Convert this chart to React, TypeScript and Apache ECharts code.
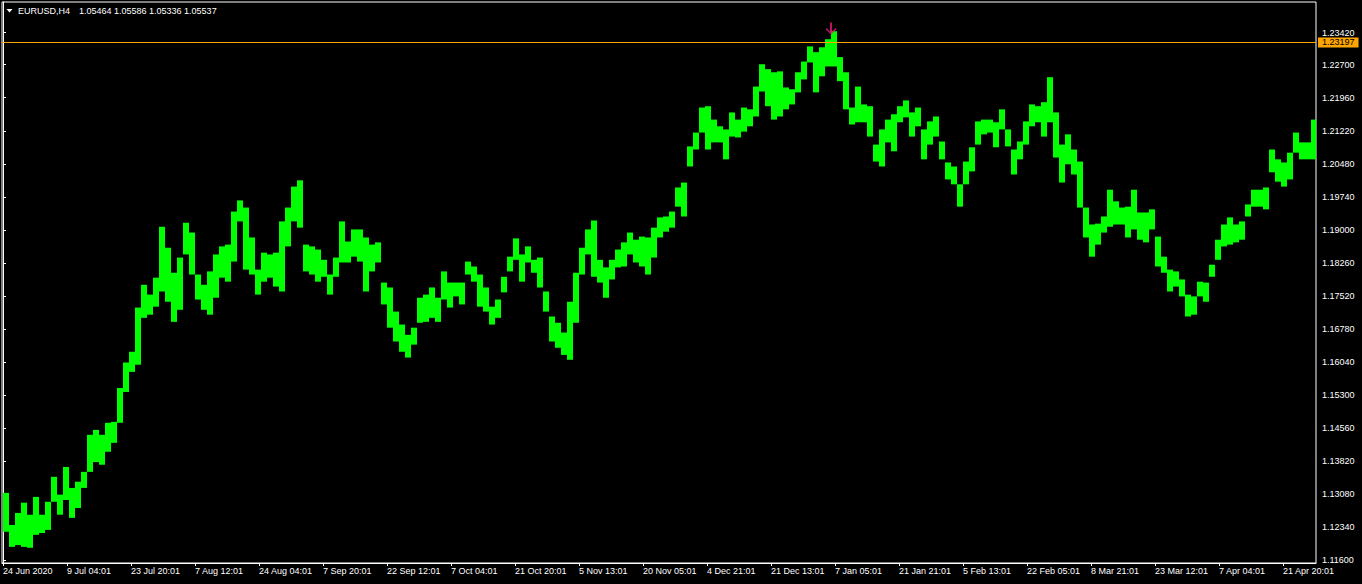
import React, { useEffect, useRef } from "react";
import * as echarts from "echarts";

// ---- data ----
const titleSymbol = "EURUSD,H4";
const titleOHLC = [1.05464, 1.05586, 1.05336, 1.05537];

const BARS_PER_DAY = 6; // H4 bars per trading day
const BARS_PER_TICK = 64;

const xTickLabels = [
  "24 Jun 2020", "9 Jul 04:01", "23 Jul 20:01", "7 Aug 12:01", "24 Aug 04:01",
  "7 Sep 20:01", "22 Sep 12:01", "7 Oct 04:01", "21 Oct 20:01", "5 Nov 13:01",
  "20 Nov 05:01", "4 Dec 21:01", "21 Dec 13:01", "7 Jan 05:01", "21 Jan 21:01",
  "5 Feb 13:01", "22 Feb 05:01", "8 Mar 21:01", "23 Mar 12:01", "7 Apr 04:01",
  "21 Apr 20:01",
];

const yTicks = [
  1.116, 1.1234, 1.1308, 1.1382, 1.1456, 1.153, 1.1604, 1.1678, 1.1752,
  1.1826, 1.19, 1.1974, 1.2048, 1.2122, 1.2196, 1.227, 1.2342,
];

const priceLevel = 1.23197;
const arrowMark = { bar: 828, price: 1.2351 };

// daily high / low (one entry per trading day)
const dayHigh = [
  1.1311, 1.1239, 1.1266, 1.1289, 1.1262, 1.1302, 1.1262, 1.1291, 1.1347, 1.1307,
  1.1369, 1.1322, 1.1336, 1.1358, 1.1441, 1.1452, 1.1441, 1.1468, 1.1470, 1.1546,
  1.1603, 1.1627, 1.1726, 1.1777, 1.1755, 1.1793, 1.1907, 1.1860, 1.1804, 1.1838,
  1.1916, 1.1894, 1.1800, 1.1777, 1.1807, 1.1845, 1.1863, 1.1867, 1.1941, 1.1966,
  1.1950, 1.1883, 1.1811, 1.1849, 1.1845, 1.1849, 1.1919, 1.1950, 1.1997, 1.2011,
  1.1867, 1.1863, 1.1856, 1.1833, 1.1800, 1.1838, 1.1919, 1.1874, 1.1901, 1.1901,
  1.1883, 1.1867, 1.1872, 1.1782, 1.1771, 1.1717, 1.1688, 1.1665, 1.1681, 1.1748,
  1.1755, 1.1771, 1.1748, 1.1807, 1.1782, 1.1782, 1.1782, 1.1829, 1.1818, 1.1800,
  1.1771, 1.1728, 1.1744, 1.1795, 1.1840, 1.1881, 1.1845, 1.1863, 1.1833, 1.1838,
  1.1762, 1.1706, 1.1692, 1.1670, 1.1739, 1.1804, 1.1860, 1.1901, 1.1921, 1.1833,
  1.1816, 1.1833, 1.1856, 1.1872, 1.1894, 1.1878, 1.1885, 1.1883, 1.1905, 1.1928,
  1.1930, 1.1941, 1.1995, 1.2006, 1.2087, 1.2118, 1.2174, 1.2177, 1.2147, 1.2132,
  1.2125, 1.2163, 1.2147, 1.2174, 1.2170, 1.2221, 1.2271, 1.2260, 1.2253, 1.2255,
  1.2219, 1.2215, 1.2253, 1.2277, 1.2311, 1.2298, 1.2309, 1.2327, 1.2345, 1.2287,
  1.2253, 1.2174, 1.2221, 1.2181, 1.2177, 1.2091, 1.2125, 1.2147, 1.2159, 1.2177,
  1.2190, 1.2163, 1.2174, 1.2125, 1.2143, 1.2154, 1.2098, 1.2051, 1.2042, 1.2002,
  1.2053, 1.2085, 1.2143, 1.2147, 1.2147, 1.2141, 1.2170, 1.2125, 1.2080, 1.2098,
  1.2143, 1.2181, 1.2177, 1.2186, 1.2242, 1.2163, 1.2091, 1.2114, 1.2080, 1.2053,
  1.1950, 1.1912, 1.1914, 1.1930, 1.1990, 1.1964, 1.1950, 1.1952, 1.1990, 1.1939,
  1.1939, 1.1946, 1.1885, 1.1840, 1.1811, 1.1807, 1.1789, 1.1755, 1.1751, 1.1784,
  1.1782, 1.1822, 1.1878, 1.1912, 1.1928, 1.1912, 1.1919, 1.1957, 1.1990, 1.1990,
  1.1995, 1.2080, 1.2058, 1.2051, 1.2073, 1.2118, 1.2096, 1.2096, 1.2147,
];

const dayLow = [
  1.1224, 1.1190, 1.1194, 1.1190, 1.1188, 1.1217, 1.1221, 1.1228, 1.1291, 1.1262,
  1.1295, 1.1255, 1.1277, 1.1322, 1.1358, 1.1380, 1.1374, 1.1403, 1.1423, 1.1468,
  1.1537, 1.1582, 1.1598, 1.1703, 1.1710, 1.1728, 1.1762, 1.1739, 1.1694, 1.1721,
  1.1845, 1.1800, 1.1744, 1.1721, 1.1710, 1.1748, 1.1793, 1.1784, 1.1829, 1.1919,
  1.1811, 1.1800, 1.1755, 1.1784, 1.1793, 1.1773, 1.1762, 1.1863, 1.1919, 1.1905,
  1.1807, 1.1800, 1.1784, 1.1795, 1.1755, 1.1795, 1.1827, 1.1827, 1.1840, 1.1829,
  1.1762, 1.1807, 1.1827, 1.1733, 1.1681, 1.1650, 1.1627, 1.1614, 1.1643, 1.1692,
  1.1694, 1.1703, 1.1694, 1.1744, 1.1726, 1.1751, 1.1733, 1.1800, 1.1784, 1.1728,
  1.1717, 1.1688, 1.1703, 1.1760, 1.1807, 1.1833, 1.1784, 1.1827, 1.1804, 1.1771,
  1.1717, 1.1650, 1.1636, 1.1620, 1.1609, 1.1692, 1.1800, 1.1845, 1.1795, 1.1782,
  1.1748, 1.1789, 1.1816, 1.1818, 1.1845, 1.1827, 1.1818, 1.1800, 1.1838, 1.1883,
  1.1896, 1.1905, 1.1952, 1.1930, 1.2042, 1.2080, 1.2118, 1.2080, 1.2096, 1.2096,
  1.2058, 1.2109, 1.2107, 1.2120, 1.2132, 1.2154, 1.2210, 1.2177, 1.2147, 1.2154,
  1.2170, 1.2181, 1.2208, 1.2237, 1.2275, 1.2208, 1.2244, 1.2266, 1.2266, 1.2233,
  1.2170, 1.2136, 1.2141, 1.2141, 1.2109, 1.2053, 1.2042, 1.2096, 1.2076, 1.2141,
  1.2152, 1.2109, 1.2132, 1.2058, 1.2091, 1.2109, 1.2058, 1.2013, 1.2002, 1.1952,
  1.2002, 1.2031, 1.2091, 1.2114, 1.2118, 1.2085, 1.2125, 1.2087, 1.2024, 1.2058,
  1.2091, 1.2132, 1.2141, 1.2109, 1.2141, 1.2062, 1.2006, 1.2047, 1.2024, 1.1950,
  1.1883, 1.1840, 1.1867, 1.1894, 1.1907, 1.1912, 1.1912, 1.1883, 1.1901, 1.1878,
  1.1872, 1.1901, 1.1818, 1.1804, 1.1762, 1.1773, 1.1751, 1.1706, 1.1710, 1.1751,
  1.1739, 1.1795, 1.1833, 1.1863, 1.1867, 1.1872, 1.1878, 1.1930, 1.1952, 1.1952,
  1.1946, 1.2029, 1.2008, 1.1997, 1.2013, 1.2073, 1.2058, 1.2058, 1.2058,
];

const FONT = "'Liberation Sans', Arial, sans-serif";
const WHITE = "#ffffff";
const GREEN = "#00ff00";
const ORANGE = "#ffa500";

export default function App() {
  const ref = useRef<HTMLDivElement>(null);

  useEffect(() => {
    document.body.style.margin = "0";
    document.body.style.background = "#000";
    if (!ref.current) return;
    const chart = echarts.init(ref.current, null, { renderer: "svg" });

    const rangeData = dayHigh.map((h, i) => [i * BARS_PER_DAY, dayLow[i], h]);
    const xTickValues = xTickLabels.map((_, i) => i * BARS_PER_TICK);

    const option: any = {
      animation: false,
      backgroundColor: "#000",
      grid: {
        left: 2,
        top: 2,
        right: 46,
        bottom: 21,
        show: true,
        borderColor: WHITE,
        borderWidth: 1,
        backgroundColor: "#000",
      },
      xAxis: {
        type: "value",
        min: -1,
        max: 1313,
        axisLine: { show: true, lineStyle: { color: WHITE } },
        axisTick: {
          show: true,
          customValues: xTickValues,
          length: 3,
          lineStyle: { color: WHITE },
        },
        axisLabel: {
          customValues: xTickValues,
          formatter: (v: number) => xTickLabels[Math.round(v / BARS_PER_TICK)] ?? "",
          color: WHITE,
          fontFamily: FONT,
          fontSize: 9,
          align: "left",
          margin: 3,
        },
        splitLine: { show: false },
      },
      yAxis: {
        type: "value",
        position: "right",
        min: 1.11539,
        max: 1.24104,
        axisLine: { show: true, lineStyle: { color: WHITE } },
        axisTick: {
          show: true,
          customValues: yTicks,
          length: 3,
          lineStyle: { color: WHITE },
        },
        axisLabel: {
          customValues: yTicks,
          formatter: (v: number) => v.toFixed(5),
          color: WHITE,
          fontFamily: FONT,
          fontSize: 9,
          margin: 6,
        },
        splitLine: { show: false },
      },
      series: [
        {
          type: "custom",
          clip: true,
          silent: true,
          data: rangeData,
          encode: { x: 0, y: [1, 2] },
          renderItem: (params: any, api: any) => {
            const start = api.value(0);
            const p1 = api.coord([start, api.value(2)]);
            const p2 = api.coord([start + BARS_PER_DAY, api.value(1)]);
            return {
              type: "rect",
              shape: {
                x: p1[0],
                y: p1[1],
                width: p2[0] - p1[0],
                height: Math.max(1, p2[1] - p1[1]),
              },
              style: { fill: GREEN },
            };
          },
        },
        {
          type: "scatter",
          silent: true,
          data: [[arrowMark.bar, arrowMark.price]],
          symbol:
            "path://M4.5,0 L6.5,0 L6.5,9 L9.8,5.6 L11,6.8 L5.5,12 L0,6.8 L1.2,5.6 L4.5,9 Z",
          symbolSize: [11, 12],
          itemStyle: { color: "#e8187f" },
          z: 5,
          markLine: {
            silent: true,
            symbol: "none",
            precision: 5,
            lineStyle: { color: ORANGE, width: 1, type: "solid", opacity: 1 },
            emphasis: { disabled: true },
            label: {
              show: true,
              position: "end",
              distance: 2,
              formatter: () => priceLevel.toFixed(5),
              color: "#000",
              backgroundColor: ORANGE,
              fontFamily: FONT,
              fontSize: 9,
              lineHeight: 10,
              padding: [0, 4, 0, 4],
            },
            data: [{ yAxis: priceLevel }],
          },
        },
      ],
      graphic: [
        {
          type: "polygon",
          shape: { points: [[6.5, 9], [12.5, 9], [9.5, 12.5]] },
          style: { fill: WHITE },
          silent: true,
        },
        {
          type: "text",
          x: 18,
          y: 11,
          style: {
            text: titleSymbol,
            fill: WHITE,
            font: `9px ${FONT}`,
            verticalAlign: "middle",
          },
          silent: true,
        },
        {
          type: "text",
          x: 79,
          y: 11,
          style: {
            text: titleOHLC.map((v) => v.toFixed(5)).join(" "),
            fill: WHITE,
            font: `9px ${FONT}`,
            verticalAlign: "middle",
          },
          silent: true,
        },
      ],
    };

    chart.setOption(option);
    return () => chart.dispose();
  }, []);

  return (
    <div
      ref={ref}
      style={{
        position: "fixed",
        left: 0,
        top: 0,
        width: 1362,
        height: 584,
        background: "#000",
      }}
    />
  );
}
